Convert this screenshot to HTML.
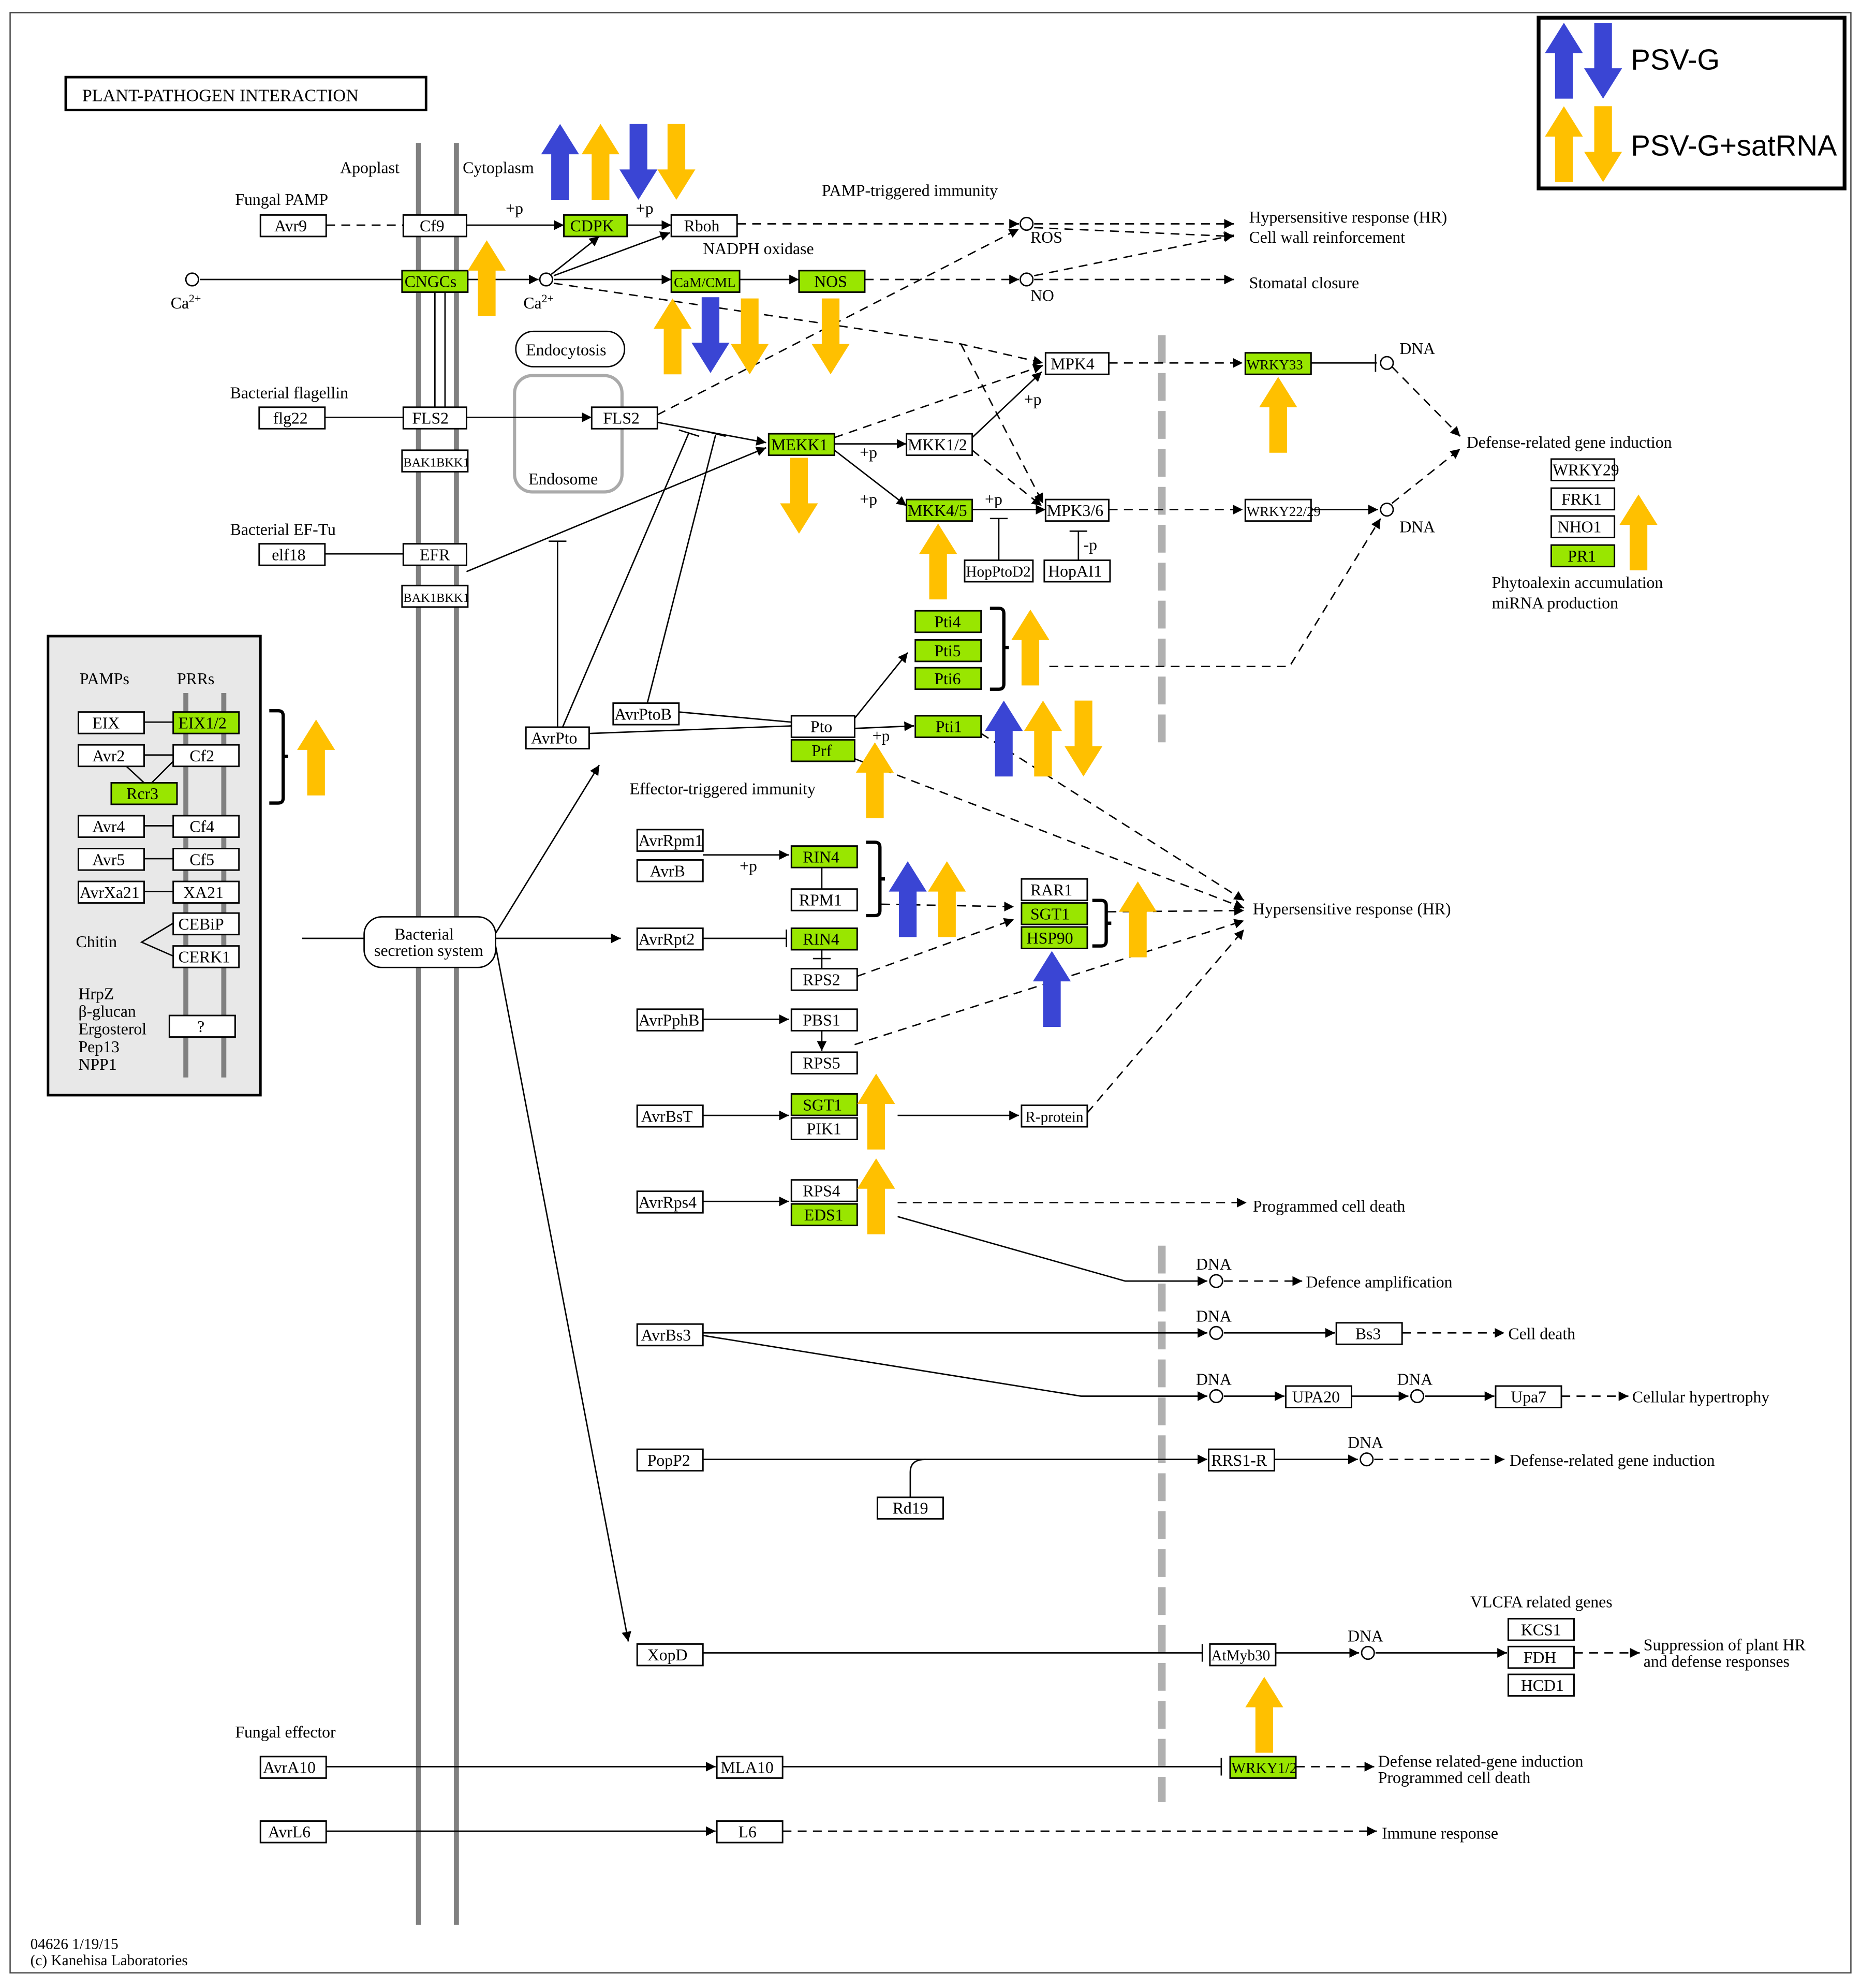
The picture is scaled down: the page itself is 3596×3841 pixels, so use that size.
<!DOCTYPE html>
<html><head><meta charset="utf-8"><style>
html,body{margin:0;padding:0;background:#fff;}
svg{display:block;}
text{font-family:"Liberation Serif",serif;font-size:13px;fill:#000;}
.b{fill:#fff;stroke:#000;stroke-width:1.2;}
.g{fill:#99e600;stroke:#000;stroke-width:1.2;}
.l{stroke:#000;stroke-width:1.1;fill:none;}
.d{stroke:#000;stroke-width:1.1;fill:none;stroke-dasharray:7,5;}
.c{fill:#fff;stroke:#000;stroke-width:1.1;}
.br{stroke:#000;stroke-width:2.6;fill:none;}
</style></head><body>
<svg width="3596" height="3841" viewBox="0 0 1472 1572" preserveAspectRatio="none" xmlns="http://www.w3.org/2000/svg">
<defs>
<marker id="a" viewBox="0 0 10 10" refX="10" refY="5" markerWidth="7" markerHeight="7" orient="auto"><path d="M0,0L10,5L0,10z" fill="#000"/></marker>
<path id="up" d="M-7,60V24H-15L0,0L15,24H7V60z"/>
<path id="dn" d="M-7,0V36H-15L0,60L15,36H7V0z"/>
</defs>
<rect x="0" y="0" width="1472" height="1572" fill="#fff"/>
<rect x="8" y="10" width="1456" height="1550" fill="none" stroke="#444" stroke-width="1"/>

<!-- membranes -->
<line x1="331" y1="113" x2="331" y2="1522" stroke="#808080" stroke-width="4"/>
<line x1="361" y1="113" x2="361" y2="1522" stroke="#808080" stroke-width="4"/>
<line x1="919" y1="265" x2="919" y2="595" stroke="#b0b0b0" stroke-width="6" stroke-dasharray="22,8"/>
<line x1="919" y1="985" x2="919" y2="1425" stroke="#b0b0b0" stroke-width="6" stroke-dasharray="22,8"/>

<!-- title -->
<rect x="52" y="61" width="285" height="26" fill="#fff" stroke="#000" stroke-width="2"/>
<text x="65" y="80" style="font-size:14px">PLANT-PATHOGEN  INTERACTION</text>
<text x="269" y="137">Apoplast</text>
<text x="366" y="137">Cytoplasm</text>
<text x="186" y="162">Fungal PAMP</text>
<text x="400" y="169">+p</text>
<text x="503" y="169">+p</text>
<text x="650" y="155">PAMP-triggered immunity</text>
<text x="556" y="201">NADPH oxidase</text>
<text x="988" y="176">Hypersensitive response (HR)</text>
<text x="988" y="192">Cell wall reinforcement</text>
<text x="988" y="228">Stomatal closure</text>
<text x="815" y="192">ROS</text>
<text x="815" y="238">NO</text>
<text x="135" y="244">Ca<tspan font-size="9" dy="-5">2+</tspan></text>
<text x="414" y="244">Ca<tspan font-size="9" dy="-5">2+</tspan></text>

<!-- connections top -->
<line class="d" x1="258" y1="178" x2="319" y2="178"/>
<line class="l" x1="369" y1="178" x2="446" y2="178" marker-end="url(#a)"/>
<line class="l" x1="496" y1="178" x2="531" y2="178" marker-end="url(#a)"/>
<line class="d" x1="583" y1="177" x2="806" y2="177" marker-end="url(#a)"/>
<line class="d" x1="818" y1="177" x2="976" y2="177" marker-end="url(#a)"/>
<line class="d" x1="818" y1="180" x2="976" y2="187" marker-end="url(#a)"/>
<line class="l" x1="158" y1="221" x2="318" y2="221"/>
<line class="l" x1="370" y1="221" x2="426" y2="221" marker-end="url(#a)"/>
<line class="l" x1="436" y1="217" x2="474" y2="187" marker-end="url(#a)"/>
<line class="l" x1="438" y1="218" x2="530" y2="184" marker-end="url(#a)"/>
<line class="l" x1="438" y1="221" x2="531" y2="221" marker-end="url(#a)"/>
<line class="l" x1="585" y1="221" x2="632" y2="221" marker-end="url(#a)"/>
<line class="d" x1="684" y1="221" x2="806" y2="221" marker-end="url(#a)"/>
<line class="d" x1="818" y1="221" x2="976" y2="221" marker-end="url(#a)"/>
<line class="d" x1="818" y1="218" x2="976" y2="186" marker-end="url(#a)"/>
<polyline class="d" points="438,224 760,272 825,287" marker-end="url(#a)"/>
<line class="d" x1="520" y1="328" x2="806" y2="181" marker-end="url(#a)"/>
<polyline class="d" points="760,272 790,330 825,398" marker-end="url(#a)"/>
<line class="l" x1="344" y1="230" x2="344" y2="322"/>
<line class="l" x1="352" y1="230" x2="352" y2="322"/>
<circle class="c" cx="152" cy="221" r="5"/>
<circle class="c" cx="432" cy="221" r="5"/>
<circle class="c" cx="812" cy="177" r="5"/>
<circle class="c" cx="812" cy="221" r="5"/>

<!-- endocytosis -->
<rect x="408" y="262" width="86" height="28" rx="14" fill="#fff" stroke="#000" stroke-width="1.1"/>
<text x="416" y="281">Endocytosis</text>
<rect x="407" y="297" width="85" height="92" rx="14" fill="none" stroke="#aaa" stroke-width="2.5"/>
<text x="418" y="383">Endosome</text>

<!-- flagellin -->
<text x="182" y="315">Bacterial flagellin</text>
<line class="l" x1="257" y1="330" x2="319" y2="330"/>
<line class="l" x1="369" y1="330" x2="468" y2="330" marker-end="url(#a)"/>
<line class="l" x1="520" y1="334" x2="606" y2="350" marker-end="url(#a)"/>
<line class="l" x1="369" y1="452" x2="606" y2="354" marker-end="url(#a)"/>
<text x="182" y="423">Bacterial EF-Tu</text>
<line class="l" x1="257" y1="438" x2="319" y2="438"/>
<line class="l" x1="660" y1="351" x2="717" y2="351" marker-end="url(#a)"/>
<line class="l" x1="660" y1="356" x2="717" y2="400" marker-end="url(#a)"/>
<line class="d" x1="660" y1="346" x2="825" y2="289" marker-end="url(#a)"/>
<line class="l" x1="769" y1="346" x2="824" y2="294" marker-end="url(#a)"/>
<line class="d" x1="769" y1="356" x2="824" y2="400" marker-end="url(#a)"/>
<line class="l" x1="769" y1="403" x2="827" y2="403" marker-end="url(#a)"/>
<text x="680" y="362">+p</text>
<text x="680" y="399">+p</text>
<text x="779" y="399">+p</text>
<text x="810" y="320">+p</text>
<text x="857" y="435">-p</text>
<line class="l" x1="790" y1="443" x2="790" y2="410"/><line class="l" x1="783" y1="410" x2="797" y2="410"/>
<line class="l" x1="853" y1="443" x2="853" y2="420"/><line class="l" x1="846" y1="420" x2="860" y2="420"/>
<line class="d" x1="877" y1="287" x2="983" y2="287" marker-end="url(#a)"/>
<line class="l" x1="1037" y1="287" x2="1089" y2="287"/><line class="l" x1="1088" y1="280" x2="1088" y2="294"/>
<line class="d" x1="877" y1="403" x2="983" y2="403" marker-end="url(#a)"/>
<line class="l" x1="1037" y1="403" x2="1090" y2="403" marker-end="url(#a)"/>
<line class="d" x1="1101" y1="290" x2="1155" y2="345" marker-end="url(#a)"/>
<line class="d" x1="1101" y1="398" x2="1155" y2="355" marker-end="url(#a)"/>
<polyline class="d" points="830,527 1020,527 1092,410" marker-end="url(#a)"/>
<circle class="c" cx="1097" cy="287" r="5"/>
<circle class="c" cx="1097" cy="403" r="5"/>
<text x="1107" y="280">DNA</text>
<text x="1107" y="421">DNA</text>
<text x="1160" y="354">Defense-related gene induction</text>
<text x="1180" y="465">Phytoalexin accumulation</text>
<text x="1180" y="481">miRNA production</text>

<!-- AvrPto lines -->
<line class="l" x1="441" y1="575" x2="441" y2="428"/><line class="l" x1="434" y1="428" x2="448" y2="428"/>
<line class="l" x1="445" y1="575" x2="545" y2="342"/><line class="l" x1="537" y1="340" x2="553" y2="345"/>
<line class="l" x1="512" y1="556" x2="566" y2="344"/><line class="l" x1="558" y1="341" x2="574" y2="345"/>
<line class="l" x1="466" y1="580" x2="626" y2="574"/>
<line class="l" x1="537" y1="563" x2="626" y2="571"/>
<line class="l" x1="676" y1="568" x2="718" y2="516" marker-end="url(#a)"/>
<line class="l" x1="676" y1="576" x2="723" y2="574" marker-end="url(#a)"/>
<text x="690" y="586">+p</text>
<line class="d" x1="676" y1="600" x2="984" y2="718" marker-end="url(#a)"/>
<line class="d" x1="776" y1="580" x2="984" y2="712" marker-end="url(#a)"/>

<!-- secretion -->
<line class="l" x1="239" y1="742" x2="288" y2="742"/>
<rect x="288" y="725" width="104" height="40" rx="14" fill="#fff" stroke="#000" stroke-width="1.1"/>
<text x="312" y="743">Bacterial</text>
<text x="296" y="756">secretion system</text>
<line class="l" x1="392" y1="738" x2="474" y2="605" marker-end="url(#a)"/>
<line class="l" x1="392" y1="742" x2="491" y2="742" marker-end="url(#a)"/>
<line class="l" x1="392" y1="748" x2="497" y2="1298" marker-end="url(#a)"/>
<text x="498" y="628">Effector-triggered immunity</text>

<line class="l" x1="556" y1="676" x2="624" y2="676" marker-end="url(#a)"/>
<text x="585" y="689">+p</text>
<line class="l" x1="556" y1="742" x2="622" y2="742"/><line class="l" x1="622" y1="735" x2="622" y2="749"/>
<line class="l" x1="650" y1="686" x2="650" y2="703"/>
<line class="l" x1="650" y1="751" x2="650" y2="766"/><line class="l" x1="643" y1="758" x2="657" y2="758"/>
<line class="d" x1="697" y1="715" x2="802" y2="717" marker-end="url(#a)"/>
<line class="d" x1="678" y1="772" x2="802" y2="727" marker-end="url(#a)"/>
<line class="d" x1="876" y1="721" x2="984" y2="720" marker-end="url(#a)"/>
<line class="d" x1="676" y1="826" x2="984" y2="728" marker-end="url(#a)"/>
<line class="l" x1="556" y1="806" x2="624" y2="806" marker-end="url(#a)"/>
<line class="l" x1="650" y1="815" x2="650" y2="831" marker-end="url(#a)"/>
<line class="l" x1="556" y1="882" x2="624" y2="882" marker-end="url(#a)"/>
<line class="l" x1="710" y1="882" x2="806" y2="882" marker-end="url(#a)"/>
<line class="d" x1="860" y1="880" x2="984" y2="735" marker-end="url(#a)"/>
<text x="991" y="723">Hypersensitive response (HR)</text>
<line class="l" x1="556" y1="950" x2="624" y2="950" marker-end="url(#a)"/>
<line class="d" x1="710" y1="951" x2="986" y2="951" marker-end="url(#a)"/>
<text x="991" y="958">Programmed cell death</text>
<polyline class="l" points="710,962 890,1013 955,1013" marker-end="url(#a)"/>
<line class="d" x1="968" y1="1013" x2="1030" y2="1013" marker-end="url(#a)"/>
<circle class="c" cx="962" cy="1013" r="5"/>
<text x="946" y="1004">DNA</text>
<text x="1033" y="1018">Defence amplification</text>

<line class="l" x1="556" y1="1054" x2="955" y2="1054" marker-end="url(#a)"/>
<line class="l" x1="968" y1="1054" x2="1056" y2="1054" marker-end="url(#a)"/>
<line class="d" x1="1109" y1="1054" x2="1190" y2="1054" marker-end="url(#a)"/>
<circle class="c" cx="962" cy="1054" r="5"/>
<text x="946" y="1045">DNA</text>
<text x="1193" y="1059">Cell death</text>
<polyline class="l" points="556,1056 855,1104 955,1104" marker-end="url(#a)"/>
<line class="l" x1="968" y1="1104" x2="1016" y2="1104" marker-end="url(#a)"/>
<line class="l" x1="1069" y1="1104" x2="1114" y2="1104" marker-end="url(#a)"/>
<line class="l" x1="1127" y1="1104" x2="1182" y2="1104" marker-end="url(#a)"/>
<line class="d" x1="1235" y1="1104" x2="1288" y2="1104" marker-end="url(#a)"/>
<circle class="c" cx="962" cy="1104" r="5"/>
<circle class="c" cx="1121" cy="1104" r="5"/>
<text x="946" y="1095">DNA</text>
<text x="1105" y="1095">DNA</text>
<text x="1291" y="1109">Cellular hypertrophy</text>

<line class="l" x1="556" y1="1154" x2="955" y2="1154" marker-end="url(#a)"/>
<path class="l" d="M720,1184V1164Q720,1154 732,1154"/>
<line class="l" x1="1008" y1="1154" x2="1074" y2="1154" marker-end="url(#a)"/>
<line class="d" x1="1087" y1="1154" x2="1190" y2="1154" marker-end="url(#a)"/>
<circle class="c" cx="1081" cy="1154" r="5"/>
<text x="1066" y="1145">DNA</text>
<text x="1194" y="1159">Defense-related gene induction</text>

<line class="l" x1="556" y1="1307" x2="951" y2="1307"/><line class="l" x1="951" y1="1300" x2="951" y2="1314"/>
<line class="l" x1="1009" y1="1307" x2="1075" y2="1307" marker-end="url(#a)"/>
<line class="l" x1="1088" y1="1307" x2="1192" y2="1307" marker-end="url(#a)"/>
<line class="d" x1="1245" y1="1307" x2="1297" y2="1307" marker-end="url(#a)"/>
<circle class="c" cx="1082" cy="1307" r="5"/>
<text x="1066" y="1298">DNA</text>
<text x="1163" y="1271">VLCFA related genes</text>
<text x="1300" y="1305">Suppression of plant HR</text>
<text x="1300" y="1318">and defense responses</text>

<text x="186" y="1374">Fungal effector</text>
<line class="l" x1="258" y1="1397" x2="566" y2="1397" marker-end="url(#a)"/>
<line class="l" x1="619" y1="1397" x2="966" y2="1397"/><line class="l" x1="966" y1="1390" x2="966" y2="1404"/>
<line class="d" x1="1025" y1="1397" x2="1087" y2="1397" marker-end="url(#a)"/>
<text x="1090" y="1397">Defense related-gene induction</text>
<text x="1090" y="1410">Programmed cell death</text>
<line class="l" x1="258" y1="1448" x2="566" y2="1448" marker-end="url(#a)"/>
<line class="d" x1="619" y1="1448" x2="1089" y2="1448" marker-end="url(#a)"/>
<text x="1093" y="1454">Immune response</text>

<!-- PAMPs box -->
<rect x="38" y="503" width="168" height="363" fill="#e8e8e8" stroke="#000" stroke-width="2"/>
<line x1="147" y1="548" x2="147" y2="852" stroke="#808080" stroke-width="4"/>
<line x1="177" y1="548" x2="177" y2="852" stroke="#808080" stroke-width="4"/>
<text x="63" y="541">PAMPs</text><text x="140" y="541">PRRs</text>
<line class="l" x1="114" y1="571" x2="137" y2="571"/>
<line class="l" x1="114" y1="597" x2="137" y2="597"/>
<line class="l" x1="100" y1="606" x2="114" y2="619"/>
<line class="l" x1="137" y1="602" x2="120" y2="619"/>
<line class="l" x1="114" y1="653" x2="137" y2="653"/>
<line class="l" x1="114" y1="679" x2="137" y2="679"/>
<line class="l" x1="114" y1="705" x2="137" y2="705"/>
<polyline class="l" points="137,730 112,745 137,756"/>
<text x="60" y="749">Chitin</text>
<text x="62" y="790">HrpZ</text><text x="62" y="804">β-glucan</text><text x="62" y="818">Ergosterol</text><text x="62" y="832">Pep13</text><text x="62" y="846">NPP1</text>

<!-- boxes -->
<g>
<rect class="b" x="206" y="170" width="52" height="17"/><text x="217" y="183">Avr9</text>
<rect class="b" x="319" y="170" width="50" height="17"/><text x="332" y="183">Cf9</text>
<rect class="g" x="446" y="170" width="50" height="17"/><text x="451" y="183">CDPK</text>
<rect class="b" x="531" y="170" width="52" height="17"/><text x="541" y="183">Rboh</text>
<rect class="g" x="318" y="214" width="52" height="17"/><text x="320" y="227">CNGCs</text>
<rect class="g" x="531" y="214" width="54" height="17"/><text x="533" y="227" style="font-size:11px">CaM/CML</text>
<rect class="g" x="632" y="214" width="52" height="17"/><text x="644" y="227">NOS</text>
<rect class="b" x="827" y="279" width="50" height="17"/><text x="831" y="292">MPK4</text>
<rect class="g" x="985" y="279" width="52" height="17"/><text x="986" y="292" style="font-size:11px">WRKY33</text>
<rect class="b" x="205" y="322" width="52" height="17"/><text x="216" y="335">flg22</text>
<rect class="b" x="319" y="322" width="50" height="17"/><text x="326" y="335">FLS2</text>
<rect class="b" x="318" y="356" width="52" height="17"/><text x="319" y="369" style="font-size:10px">BAK1BKK1</text>
<rect class="b" x="468" y="322" width="52" height="17"/><text x="477" y="335">FLS2</text>
<rect class="g" x="608" y="343" width="52" height="17"/><text x="610" y="356">MEKK1</text>
<rect class="b" x="717" y="343" width="52" height="17"/><text x="718" y="356">MKK1/2</text>
<rect class="g" x="717" y="395" width="52" height="17"/><text x="718" y="408">MKK4/5</text>
<rect class="b" x="827" y="395" width="50" height="17"/><text x="828" y="408">MPK3/6</text>
<rect class="b" x="985" y="395" width="52" height="17"/><text x="986" y="408" style="font-size:11px">WRKY22/29</text>
<rect class="b" x="763" y="443" width="54" height="17"/><text x="764" y="456" style="font-size:12px">HopPtoD2</text>
<rect class="b" x="826" y="443" width="52" height="17"/><text x="829" y="456">HopAI1</text>
<rect class="b" x="1227" y="363" width="50" height="17"/><text x="1228" y="376">WRKY29</text>
<rect class="b" x="1227" y="386" width="50" height="17"/><text x="1235" y="399">FRK1</text>
<rect class="b" x="1227" y="408" width="50" height="17"/><text x="1232" y="421">NHO1</text>
<rect class="g" x="1227" y="431" width="50" height="17"/><text x="1240" y="444">PR1</text>
<rect class="b" x="205" y="430" width="52" height="17"/><text x="215" y="443">elf18</text>
<rect class="b" x="319" y="430" width="50" height="17"/><text x="332" y="443">EFR</text>
<rect class="b" x="318" y="463" width="52" height="17"/><text x="319" y="476" style="font-size:10px">BAK1BKK1</text>
<rect class="g" x="724" y="483" width="52" height="17"/><text x="739" y="496">Pti4</text>
<rect class="g" x="724" y="506" width="52" height="17"/><text x="739" y="519">Pti5</text>
<rect class="g" x="724" y="528" width="52" height="17"/><text x="739" y="541">Pti6</text>
<rect class="b" x="416" y="575" width="50" height="17"/><text x="420" y="588">AvrPto</text>
<rect class="b" x="485" y="556" width="52" height="17"/><text x="486" y="569">AvrPtoB</text>
<rect class="b" x="626" y="566" width="50" height="17"/><text x="641" y="579">Pto</text>
<rect class="g" x="626" y="585" width="50" height="17"/><text x="642" y="598">Prf</text>
<rect class="g" x="724" y="566" width="52" height="17"/><text x="740" y="579">Pti1</text>
<rect class="b" x="62" y="563" width="52" height="17"/><text x="73" y="576">EIX</text>
<rect class="g" x="137" y="563" width="52" height="17"/><text x="141" y="576">EIX1/2</text>
<rect class="b" x="62" y="589" width="52" height="17"/><text x="73" y="602">Avr2</text>
<rect class="b" x="137" y="589" width="52" height="17"/><text x="150" y="602">Cf2</text>
<rect class="g" x="88" y="619" width="52" height="17"/><text x="100" y="632">Rcr3</text>
<rect class="b" x="62" y="645" width="52" height="17"/><text x="73" y="658">Avr4</text>
<rect class="b" x="137" y="645" width="52" height="17"/><text x="150" y="658">Cf4</text>
<rect class="b" x="62" y="671" width="52" height="17"/><text x="73" y="684">Avr5</text>
<rect class="b" x="137" y="671" width="52" height="17"/><text x="150" y="684">Cf5</text>
<rect class="b" x="62" y="697" width="52" height="17"/><text x="63" y="710">AvrXa21</text>
<rect class="b" x="137" y="697" width="52" height="17"/><text x="145" y="710">XA21</text>
<rect class="b" x="137" y="722" width="52" height="17"/><text x="141" y="735">CEBiP</text>
<rect class="b" x="137" y="748" width="52" height="17"/><text x="141" y="761">CERK1</text>
<rect class="b" x="134" y="803" width="52" height="17"/><text x="156" y="816">?</text>
<rect class="b" x="504" y="656" width="52" height="17"/><text x="505" y="669">AvrRpm1</text>
<rect class="b" x="504" y="680" width="52" height="17"/><text x="514" y="693">AvrB</text>
<rect class="g" x="626" y="669" width="52" height="17"/><text x="635" y="682">RIN4</text>
<rect class="b" x="626" y="703" width="52" height="17"/><text x="632" y="716">RPM1</text>
<rect class="b" x="504" y="734" width="52" height="17"/><text x="505" y="747">AvrRpt2</text>
<rect class="g" x="626" y="734" width="52" height="17"/><text x="635" y="747">RIN4</text>
<rect class="b" x="626" y="766" width="52" height="17"/><text x="635" y="779">RPS2</text>
<rect class="b" x="808" y="695" width="52" height="17"/><text x="815" y="708">RAR1</text>
<rect class="g" x="808" y="714" width="52" height="17"/><text x="815" y="727">SGT1</text>
<rect class="g" x="808" y="733" width="52" height="17"/><text x="812" y="746">HSP90</text>
<rect class="b" x="504" y="798" width="52" height="17"/><text x="505" y="811">AvrPphB</text>
<rect class="b" x="626" y="798" width="52" height="17"/><text x="635" y="811">PBS1</text>
<rect class="b" x="626" y="832" width="52" height="17"/><text x="635" y="845">RPS5</text>
<rect class="b" x="504" y="874" width="52" height="17"/><text x="507" y="887">AvrBsT</text>
<rect class="g" x="626" y="865" width="52" height="17"/><text x="635" y="878">SGT1</text>
<rect class="b" x="626" y="884" width="52" height="17"/><text x="638" y="897">PIK1</text>
<rect class="b" x="808" y="874" width="52" height="17"/><text x="811" y="887" style="font-size:12px">R-protein</text>
<rect class="b" x="504" y="942" width="52" height="17"/><text x="505" y="955">AvrRps4</text>
<rect class="b" x="626" y="933" width="52" height="17"/><text x="635" y="946">RPS4</text>
<rect class="g" x="626" y="952" width="52" height="17"/><text x="636" y="965">EDS1</text>
<rect class="b" x="504" y="1047" width="52" height="17"/><text x="507" y="1060">AvrBs3</text>
<rect class="b" x="1057" y="1046" width="52" height="17"/><text x="1072" y="1059">Bs3</text>
<rect class="b" x="1017" y="1096" width="52" height="17"/><text x="1022" y="1109">UPA20</text>
<rect class="b" x="1183" y="1096" width="52" height="17"/><text x="1195" y="1109">Upa7</text>
<rect class="b" x="504" y="1146" width="52" height="17"/><text x="512" y="1159">PopP2</text>
<rect class="b" x="956" y="1146" width="52" height="17"/><text x="958" y="1159">RRS1-R</text>
<rect class="b" x="694" y="1184" width="52" height="17"/><text x="706" y="1197">Rd19</text>
<rect class="b" x="504" y="1300" width="52" height="17"/><text x="512" y="1313">XopD</text>
<rect class="b" x="957" y="1300" width="52" height="17"/><text x="958" y="1313" style="font-size:12px">AtMyb30</text>
<rect class="b" x="1193" y="1280" width="52" height="17"/><text x="1203" y="1293">KCS1</text>
<rect class="b" x="1193" y="1302" width="52" height="17"/><text x="1205" y="1315">FDH</text>
<rect class="b" x="1193" y="1324" width="52" height="17"/><text x="1203" y="1337">HCD1</text>
<rect class="b" x="206" y="1389" width="52" height="17"/><text x="208" y="1402">AvrA10</text>
<rect class="b" x="567" y="1389" width="52" height="17"/><text x="570" y="1402">MLA10</text>
<rect class="g" x="973" y="1389" width="52" height="17"/><text x="974" y="1402" style="font-size:12px">WRKY1/2</text>
<rect class="b" x="206" y="1440" width="52" height="17"/><text x="212" y="1453">AvrL6</text>
<rect class="b" x="567" y="1440" width="52" height="17"/><text x="584" y="1453">L6</text>
</g>

<!-- brackets -->
<path class="br" d="M783,481h7q4,0 4,4v27h4h-4v29q0,4 -4,4h-7"/>
<path class="br" d="M213,562h7q4,0 4,4v32h4h-4v33q0,4 -4,4h-7"/>
<path class="br" d="M685,666h7q4,0 4,4v25h4h-4v25q0,4 -4,4h-7"/>
<path class="br" d="M864,712h7q4,0 4,4v14h4h-4v14q0,4 -4,4h-7"/>

<!-- arrows -->
<g fill="#3a45d4">
<use href="#up" x="443" y="98"/>
<use href="#dn" x="505" y="98"/>
<use href="#dn" x="562" y="235"/>
<use href="#up" x="794" y="554"/>
<use href="#up" x="718" y="681"/>
<use href="#up" x="832" y="752"/>
<use href="#up" x="1237" y="18"/>
<use href="#dn" x="1268" y="18"/>
</g>
<g fill="#ffc000">
<use href="#up" x="475" y="98"/>
<use href="#dn" x="535" y="98"/>
<use href="#up" x="385" y="190"/>
<use href="#up" x="532" y="236"/>
<use href="#dn" x="593" y="236"/>
<use href="#dn" x="657" y="236"/>
<use href="#up" x="1011" y="298"/>
<use href="#dn" x="632" y="362"/>
<use href="#up" x="742" y="414"/>
<use href="#up" x="815" y="482"/>
<use href="#up" x="1296" y="391"/>
<use href="#up" x="250" y="569"/>
<use href="#up" x="825" y="554"/>
<use href="#dn" x="857" y="554"/>
<use href="#up" x="692" y="587"/>
<use href="#up" x="749" y="681"/>
<use href="#up" x="900" y="697"/>
<use href="#up" x="693" y="849"/>
<use href="#up" x="693" y="916"/>
<use href="#up" x="1000" y="1326"/>
<use href="#up" x="1237" y="84"/>
<use href="#dn" x="1268" y="84"/>
</g>

<!-- legend -->
<rect x="1217" y="14" width="242" height="135" fill="none" stroke="#000" stroke-width="3"/>
<text x="1290" y="55" style="font-family:'Liberation Sans',sans-serif;font-size:23px">PSV-G</text>
<text x="1290" y="123" style="font-family:'Liberation Sans',sans-serif;font-size:23px">PSV-G+satRNA</text>

<text x="24" y="1541" style="font-size:12px">04626 1/19/15</text>
<text x="24" y="1554" style="font-size:12px">(c) Kanehisa Laboratories</text>
</svg>
</body></html>
